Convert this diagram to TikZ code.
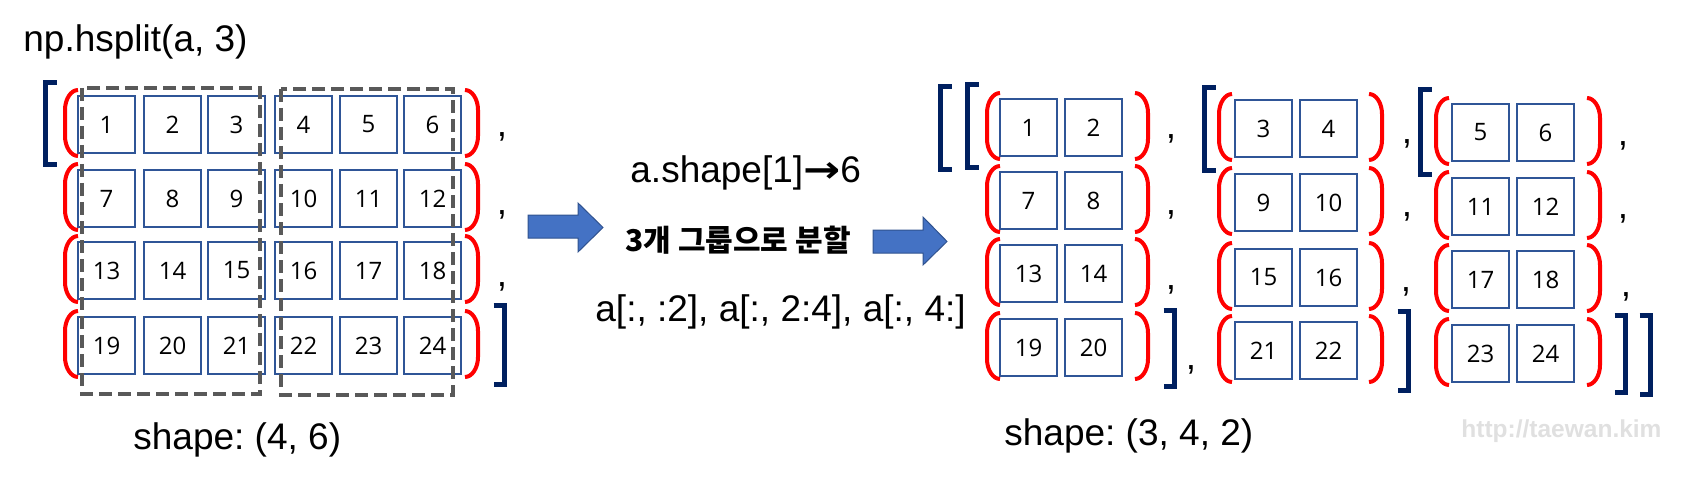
\documentclass[tikz,border=0pt]{standalone}
\usepackage{fontspec}
\setmainfont{Liberation Sans}
\newfontfamily\cellfont{Open Sans}
\newfontfamily\korfont{Noto Sans CJK KR}
\newfontfamily\symfont{DejaVu Sans}
\frenchspacing

\definecolor{cellblue}{RGB}{47,85,151}
\definecolor{navy}{RGB}{0,32,96}
\definecolor{dashgray}{RGB}{89,89,89}
\definecolor{arrowblue}{RGB}{68,114,196}
\definecolor{arrowedge}{RGB}{47,82,143}
\definecolor{markgray}{RGB}{224,224,224}

% red row parentheses and navy group brackets: x, top, bottom
\newcommand{\rowopen}[3]{\draw[rowpar] (#1+13,#2) .. controls (#1+6,#2) and (#1,#2+9) .. (#1,#2+20) -- (#1,#3-20) .. controls (#1,#3-9) and (#1+6,#3) .. (#1+13,#3);}
\newcommand{\rowclose}[3]{\draw[rowpar] (#1-13,#2) .. controls (#1-6,#2) and (#1,#2+9) .. (#1,#2+20) -- (#1,#3-20) .. controls (#1,#3-9) and (#1-6,#3) .. (#1-13,#3);}
\newcommand{\grpopen}[3]{\draw[grpbrk] (#1+11,#2) -- (#1,#2) -- (#1,#3) -- (#1+11,#3);}
\newcommand{\grpclose}[3]{\draw[grpbrk] (#1-11,#2) -- (#1,#2) -- (#1,#3) -- (#1-11,#3);}

\begin{document}
\begin{tikzpicture}[x=0.5pt, y=-0.5pt,
    cellbox/.style={draw=cellblue, line width=1pt, minimum size=28.5pt, inner sep=0pt, font=\cellfont\fontsize{12}{14}\selectfont},
    rowpar/.style={draw=red, line width=2pt},
    grpbrk/.style={draw=navy, line width=2.5pt},
    splitbox/.style={draw=dashgray, line width=2pt, dash pattern=on 6.5pt off 3pt},
    blockarrow/.style={fill=arrowblue, draw=arrowedge, line width=0.5pt},
    codetext/.style={inner sep=0pt, anchor=base west, font=\fontsize{18.5}{22}\selectfont},
    commatext/.style={inner sep=0pt, anchor=base, font=\fontsize{18.5}{22}\selectfont}]
    \useasboundingbox (0,0) rectangle (1693,481);

    \node[codetext] (title) at (23,52) {np.hsplit(a, 3)};

    % the 4x6 array
    \foreach \cy [count=\r from 0] in {124.5,198.5,270.5,345.5}
        \foreach \cx [count=\c from 1] in {106.5,172.5,236.5,303.5,368.5,432.5} {
            \pgfmathtruncatemacro\n{6*\r+\c}
            \node[cellbox] (a\n) at (\cx,\cy) {\n};
        }
    \foreach \ry in {95,169,241,316} {
        \rowopen{65}{\ry-5}{\ry+61}
        \rowclose{478}{\ry-5}{\ry+61}
    }
    \grpopen{45.5}{82.5}{164.5}
    \grpclose{504.5}{305.5}{384.5}
    \node[commatext] (ca1) at (502,137) {,};
    \node[commatext] (ca2) at (502,214) {,};
    \node[commatext] (ca3) at (502,286) {,};
    \draw[splitbox] (82,88) rectangle (260,394);
    \draw[splitbox] (281,89) rectangle (453,395);
    \node[codetext] (shapea) at (133,449) {shape: (4, 6)};

    % middle
    \draw[blockarrow] (528,215) -- (578,215) -- (578,203) -- (603,227.5) -- (578,252) -- (578,238) -- (528,238) -- cycle;
    \node[codetext] (dims) at (630,183) {a.shape[1]\scalebox{1.2}[1]{\symfont\bfseries →}6};
    \node[codetext, font=\korfont\bfseries\fontsize{15}{17}\selectfont] (split) at (625,251) {3개 그룹으로 분할};
    \draw[blockarrow] (873,230) -- (923,230) -- (923,217) -- (947,241.5) -- (923,265) -- (923,253) -- (873,253) -- cycle;
    \node[codetext] (slices) at (595,321) {a[:, :2], a[:, 2:4], a[:, 4:]};

    % the three 4x2 arrays
    \foreach \k/\xa/\po/\pc/\ya/\yb/\yc/\yd in {0/999/987/1148/98/171/244/318, 1/1234/1219/1382/99/173/248/321, 2/1451/1436/1600/103/177/250/324}
        \foreach \ry [count=\r from 0] in {\ya,\yb,\yc,\yd} {
            \pgfmathtruncatemacro\n{6*\r+2*\k+1}
            \pgfmathtruncatemacro\m{\n+1}
            \node[cellbox] (b\n) at (\xa+29.5,\ry+29.5) {\n};
            \node[cellbox] (b\m) at (\xa+94.5,\ry+29.5) {\m};
            \rowopen{\po}{\ry-5}{\ry+61}
            \rowclose{\pc}{\ry-5}{\ry+61}
        }
    \grpopen{940.5}{86.5}{169.5}
    \grpopen{967.5}{84.5}{167.5}
    \grpclose{1174.5}{310.5}{386.5}
    \grpopen{1204.5}{87.5}{170.5}
    \grpclose{1408.5}{311.5}{390.5}
    \grpopen{1420.5}{89.5}{174.5}
    \grpclose{1625.5}{315.5}{392.5}
    \grpclose{1650.5}{315.5}{394.5}
    \node[commatext] (cb1) at (1171,139) {,};
    \node[commatext] (cb2) at (1171,214) {,};
    \node[commatext] (cb3) at (1171,289) {,};
    \node[commatext] (cb4) at (1191,369) {,};
    \node[commatext] (cc1) at (1407,144) {,};
    \node[commatext] (cc2) at (1407,216) {,};
    \node[commatext] (cc3) at (1406,291) {,};
    \node[commatext] (cd1) at (1623,146) {,};
    \node[commatext] (cd2) at (1623,219) {,};
    \node[commatext] (cd3) at (1626,296) {,};
    \node[codetext] (shapeb) at (1004,445) {shape: (3, 4, 2)};

    \node[codetext, text=markgray, font=\bfseries\fontsize{12.25}{14}\selectfont] (mark) at (1461,437) {http://taewan.kim};
\end{tikzpicture}
\end{document}
